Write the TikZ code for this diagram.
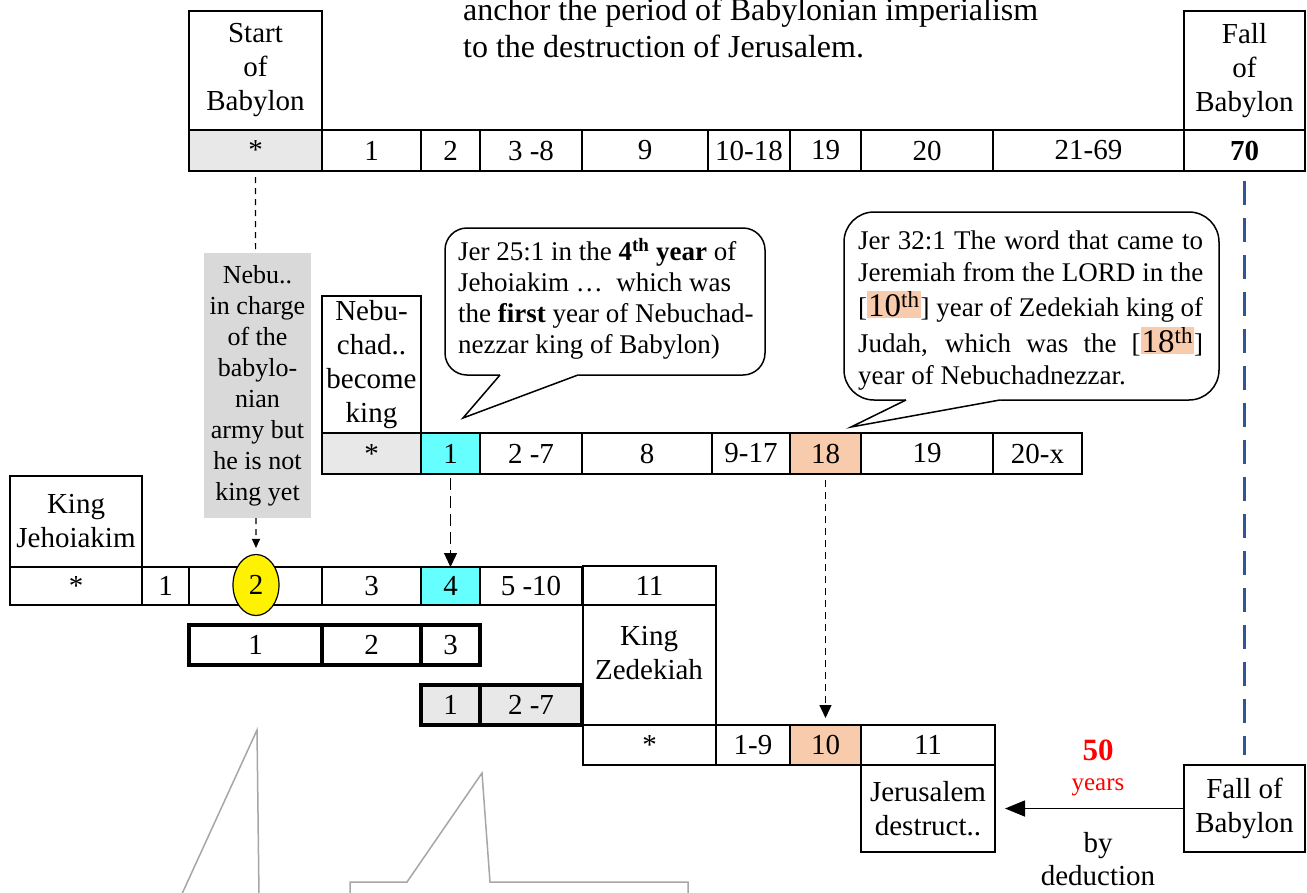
\documentclass[tikz,border=0pt]{standalone}
\usepackage{fontspec}
\setmainfont{Liberation Serif}
\usetikzlibrary{arrows.meta,shapes.geometric}
\definecolor{cyanc}{HTML}{66FFFF}
\definecolor{peach}{HTML}{F8CBAD}
\definecolor{cellgray}{HTML}{E8E8E8}
\definecolor{boxgray}{HTML}{D9D9D9}
\definecolor{dblue}{HTML}{2F5597}
\definecolor{linegray}{HTML}{A6A6A6}
\newcommand\cellbox[7][]{\node[cell,#1,minimum width={(#5-#3)*1pt},minimum height={(#6-#4)*1pt}] (#2) at ({(#3+#5)/2},{(#4+#6)/2}) {#7};}
\newcommand\hlnum[1]{{\setlength{\fboxsep}{1pt}\colorbox{peach}{\fontsize{33}{33}\selectfont #1}}}
\tikzset{
  cell/.style={draw=black, line width=1.3pt, inner sep=0pt, outer sep=0pt, align=center, font=\fontsize{29}{34}\selectfont},
  thickcell/.style={line width=4pt},
  calloutbox/.style={draw=black, fill=white, line width=1.5pt, inner sep=0pt, outer sep=0pt},
  callouttext/.style={inner sep=0pt, align=left, font=\fontsize{27}{31}\selectfont},
  plain/.style={inner sep=0pt, align=center, font=\fontsize{29}{34}\selectfont},
}
\begin{document}
\begin{tikzpicture}[x=1pt,y=-1pt]
\useasboundingbox (0,0) rectangle (1307,892);

% intro text
\node[anchor=base west, inner sep=0pt, font=\fontsize{32}{36}\selectfont] (intro1) at (463,20) {anchor the period of Babylonian imperialism};
\node[anchor=base west, inner sep=0pt, font=\fontsize{32}{36}\selectfont] (intro2) at (463,57) {to the destruction of Jerusalem.};

% top row
\cellbox{startlbl}{189}{11}{322}{130}{Start\\of\\Babylon}
\cellbox{falllbl}{1184}{11}{1305}{130}{Fall\\of\\Babylon}
\cellbox[fill=cellgray]{t0}{189}{130}{322}{171}{*}
\cellbox{t1}{322}{130}{421}{171}{1}
\cellbox{t2}{421}{130}{480}{171}{2}
\cellbox{t3}{480}{130}{582}{171}{3 -8}
\cellbox{t9}{582}{130}{708}{171}{9}
\cellbox{t10}{708}{130}{790}{171}{10-18}
\cellbox{t19}{790}{130}{861}{171}{19}
\cellbox{t20}{861}{130}{993}{171}{20}
\cellbox{t21}{993}{130}{1184}{171}{21-69}
\cellbox[line width=2.4pt,font=\fontsize{29}{34}\selectfont\bfseries]{t70}{1184}{130}{1305}{171}{70}

% Nebuchadnezzar row
\cellbox{nlbl}{322}{296}{421}{433}{Nebu-\\chad..\\become\\king}
\cellbox[fill=cellgray]{n0}{322}{433}{421}{474}{*}
\cellbox[fill=cyanc]{n1}{421}{433}{480}{474}{1}
\cellbox{n2}{480}{433}{582}{474}{2 -7}
\cellbox{n8}{582}{433}{712}{474}{8}
\cellbox{n9}{712}{433}{790}{474}{9-17}
\cellbox[fill=peach]{n18}{790}{433}{861}{474}{18}
\cellbox{n19}{861}{433}{993}{474}{19}
\cellbox{n20}{993}{433}{1082}{474}{20-x}

% Jehoiakim row
\cellbox{jlbl}{10}{476}{142}{567}{King\\Jehoiakim}
\cellbox{j0}{10}{567}{142}{605}{*}
\cellbox{j1}{142}{567}{189}{605}{1}
\cellbox{j2}{189}{567}{322}{605}{}
\cellbox{j3}{322}{567}{421}{605}{3}
\cellbox[fill=cyanc]{j4}{421}{567}{480}{605}{4}
\cellbox{j5}{480}{567}{582}{605}{5 -10}
\cellbox{j11}{583}{566}{716}{605}{11}
\node[ellipse, draw=black, fill=yellow, line width=1.2pt, minimum width=46pt, minimum height=61pt, inner sep=0pt, font=\fontsize{29}{34}\selectfont] (j2e) at (256,585) {2};

% thick rows
\cellbox[thickcell]{a1}{189}{625}{322}{665}{1}
\cellbox[thickcell]{a2}{322}{625}{421}{665}{2}
\cellbox[thickcell]{a3}{421}{625}{480}{665}{3}
\cellbox[thickcell,fill=cellgray]{b1}{421}{685}{480}{725}{1}
\cellbox[thickcell,fill=cellgray]{b2}{480}{685}{582}{725}{2 -7}

% Zedekiah row
\cellbox{zlbl}{583}{605}{716}{725}{}
\node[plain] (zlbltext) at (649,653) {King\\Zedekiah};
\cellbox{z0}{583}{725}{716}{765}{*}
\cellbox{z1}{716}{725}{790}{765}{1-9}
\cellbox[fill=peach]{z10}{790}{725}{861}{765}{10}
\cellbox{z11}{861}{725}{995}{765}{11}
\cellbox{jer}{861}{765}{995}{852}{Jerusalem\\destruct..}
\cellbox{fallb}{1184}{765}{1305}{852}{Fall of\\Babylon}

% dashed connector start -> ellipse (behind grey box)
\draw[line width=1.2pt, dash pattern=on 6pt off 5pt, shorten <=6pt, shorten >=6pt, -{Triangle[length=9pt,width=8pt]}] (t0.south) -- (j2e.north);
\node[fill=boxgray, inner sep=0pt, minimum width=107pt, minimum height=265pt, align=center, font=\fontsize{26}{31}\selectfont] (nebu) at (257.5,385.5) {Nebu..\\in charge\\of the\\babylo-\\nian\\army but\\he is not\\king yet};

\draw[line width=1.3pt, dash pattern=on 12pt off 6pt, shorten <=4pt, -{Triangle[length=14pt,width=13pt]}] (n1.south) -- (j4.north);
\draw[line width=1.3pt, dash pattern=on 7pt off 5pt, shorten <=6pt, shorten >=7pt, -{Triangle[length=13pt,width=12pt]}] (n18.south) -- (z10.north);

% blue dashed line
\draw[dblue, line width=3pt, dash pattern=on 24pt off 13pt, shorten <=10pt, shorten >=10pt] (t70.south) -- (fallb.north);

% arrow fall -> Jerusalem
\draw[line width=1.5pt, shorten >=10pt, -{Triangle[length=20pt,width=16pt]}] (fallb.west) -- (jer.east);
\node[inner sep=0pt, text=red, font=\fontsize{31}{31}\selectfont\bfseries] (fifty) at (1098,750) {50};
\node[inner sep=0pt, text=red, font=\fontsize{25}{25}\selectfont] (yrs) at (1098,787) {years};
\node[plain, font=\fontsize{29}{33}\selectfont] (byded) at (1098,859) {by\\deduction};

% callout 1
\node[calloutbox, rounded corners=22pt, minimum width=320pt, minimum height=147pt] (call1) at (605,301.5) {};
\fill[white] (500,377) -- (463,418) -- (578,377) -- (578,372) -- (500,372) -- cycle;
\draw[line width=1.5pt] (500,375) -- (463,418) -- (578,375);
\node[callouttext, anchor=north west] (call1text) at (458,238) {Jer 25:1 in the \textbf{4\textsuperscript{th} year} of\\Jehoiakim …\ \ which was\\the \textbf{first} year of Nebuchad-\\nezzar king of Babylon)};

% callout 2
\node[calloutbox, rounded corners=30pt, minimum width=375pt, minimum height=188pt] (call2) at (1031.5,306) {};
\fill[white] (906,402) -- (851,427) -- (1000,402) -- (1000,397) -- (906,397) -- cycle;
\draw[line width=1.5pt] (906,400) -- (851,427) -- (1000,400);
\node[callouttext, font=\fontsize{27}{32}\selectfont, anchor=north west] (call2text) at (858,231) {\makebox[345pt][s]{Jer 32:1 The word that came to}\\\makebox[345pt][s]{Jeremiah from the LORD in the}\\[3pt]\makebox[345pt][s]{[\hlnum{10\textsuperscript{th}}] year of Zedekiah king of}\\[4pt]\makebox[345pt][s]{Judah, which was the [\hlnum{18\textsuperscript{th}}]}\\year of Nebuchadnezzar.};

% grey partial shapes at bottom left
\draw[linegray, line width=1.5pt] (181,896) -- (257,730) -- (259,896);
\draw[linegray, line width=1.5pt] (350,896) -- (350,882) -- (407,882) -- (482,773) -- (490,882) -- (688,882) -- (688,896);
\end{tikzpicture}
\end{document}
